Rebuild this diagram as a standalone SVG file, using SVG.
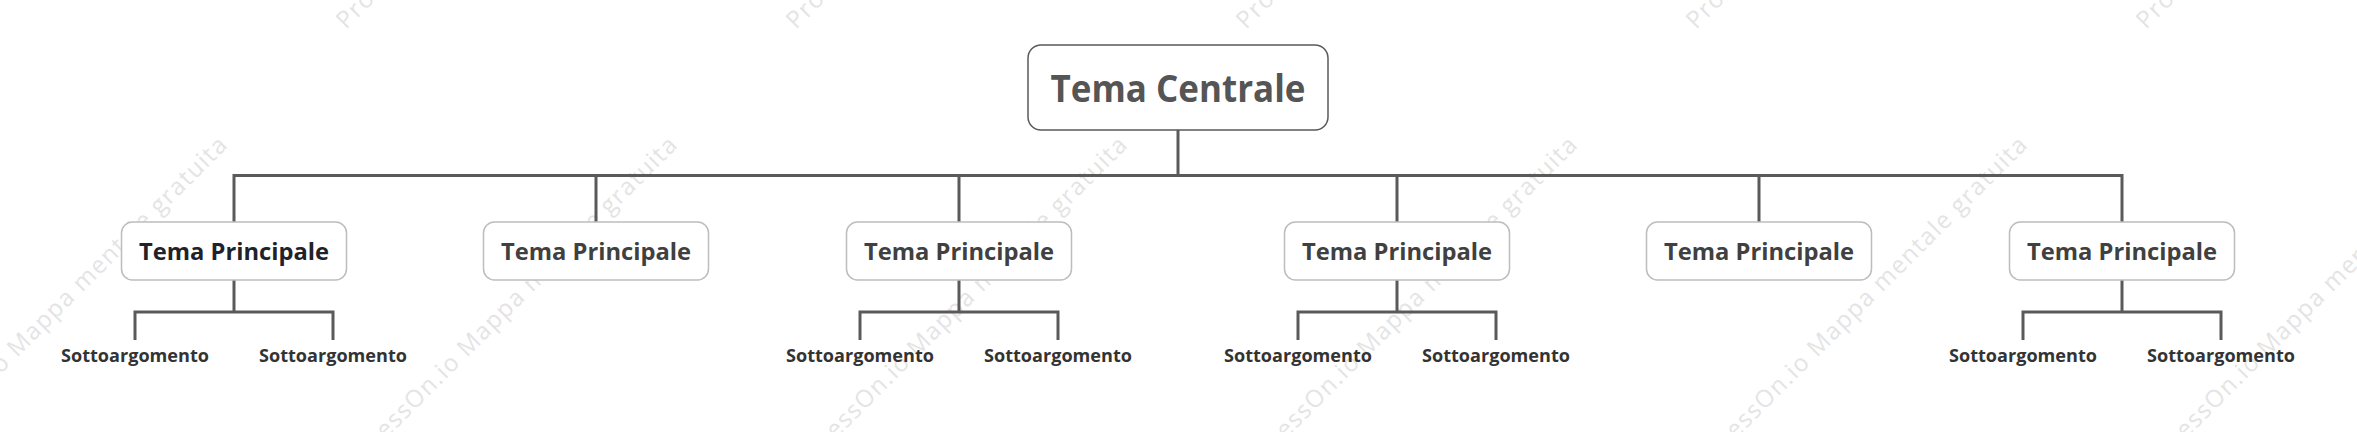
<svg xmlns="http://www.w3.org/2000/svg" width="2357" height="432" viewBox="0 0 2357 432">
  <style>
    .wm { font-family: "Open Sans", "Liberation Sans", sans-serif; font-size: 24px; fill: #e4e4e4; }
    .central-box { fill: #ffffff; stroke: #5a5a5a; stroke-width: 1.5; }
    .central-text { font-family: "Open Sans", "Liberation Sans", sans-serif; font-weight: 700; font-size: 37px; fill: #555555; text-anchor: middle; }
    .main-box { fill: #ffffff; stroke: #bdbdbd; stroke-width: 1.5; }
    .main-text { font-family: "Open Sans", "Liberation Sans", sans-serif; font-weight: 700; font-size: 24px; fill: #404040; text-anchor: middle; }
    .main-text.first { fill: #1f2329; }
    .sub-text { font-family: "Open Sans", "Liberation Sans", sans-serif; font-weight: 700; font-size: 18.5px; fill: #333333; text-anchor: middle; }
    .conn { fill: none; stroke: #5a5a5a; stroke-width: 3; }
  </style>
  <rect width="2357" height="432" fill="#ffffff"/>

  <g id="watermarks">
    <text class="wm" transform="translate(-554,30) rotate(-45)" textLength="470">ProcessOn.io Mappa mentale gratuita</text>
    <text class="wm" transform="translate(-104,30) rotate(-45)" textLength="470">ProcessOn.io Mappa mentale gratuita</text>
    <text class="wm" transform="translate(346,30) rotate(-45)" textLength="470">ProcessOn.io Mappa mentale gratuita</text>
    <text class="wm" transform="translate(796,30) rotate(-45)" textLength="470">ProcessOn.io Mappa mentale gratuita</text>
    <text class="wm" transform="translate(1246,30) rotate(-45)" textLength="470">ProcessOn.io Mappa mentale gratuita</text>
    <text class="wm" transform="translate(1696,30) rotate(-45)" textLength="470">ProcessOn.io Mappa mentale gratuita</text>
    <text class="wm" transform="translate(2146,30) rotate(-45)" textLength="470">ProcessOn.io Mappa mentale gratuita</text>
    <text class="wm" transform="translate(-104,479) rotate(-45)" textLength="470">ProcessOn.io Mappa mentale gratuita</text>
    <text class="wm" transform="translate(346,479) rotate(-45)" textLength="470">ProcessOn.io Mappa mentale gratuita</text>
    <text class="wm" transform="translate(796,479) rotate(-45)" textLength="470">ProcessOn.io Mappa mentale gratuita</text>
    <text class="wm" transform="translate(1246,479) rotate(-45)" textLength="470">ProcessOn.io Mappa mentale gratuita</text>
    <text class="wm" transform="translate(1696,479) rotate(-45)" textLength="470">ProcessOn.io Mappa mentale gratuita</text>
    <text class="wm" transform="translate(2146,479) rotate(-45)" textLength="470">ProcessOn.io Mappa mentale gratuita</text>
  </g>

  <g id="connectors">
    <path class="conn" d="M1178,130 V175.5"/>
    <path class="conn" d="M234,222 V175.5 H2122 V222"/>
    <path class="conn" stroke-width="2.5" d="M596,175.5 V222 M959,175.5 V222 M1397,175.5 V222 M1759,175.5 V222"/>
    <path class="conn" d="M234,280 V312 M135,340 V312 H333 V340"/>
    <path class="conn" d="M959,280 V312 M860,340 V312 H1058 V340"/>
    <path class="conn" d="M1397,280 V312 M1298,340 V312 H1496 V340"/>
    <path class="conn" d="M2122,280 V312 M2023,340 V312 H2221 V340"/>
  </g>

  <g id="central">
    <rect class="central-box" x="1028" y="45" width="300" height="85" rx="13"/>
    <text class="central-text" x="1178" y="102" textLength="255" lengthAdjust="spacingAndGlyphs">Tema Centrale</text>
  </g>

  <g id="main1">
    <rect class="main-box" x="121.5" y="222" width="225" height="58" rx="11"/>
    <text class="main-text first" x="234" y="260" textLength="190" lengthAdjust="spacingAndGlyphs">Tema Principale</text>
  </g>
  <g id="main2">
    <rect class="main-box" x="483.5" y="222" width="225" height="58" rx="11"/>
    <text class="main-text" x="596" y="260" textLength="190" lengthAdjust="spacingAndGlyphs">Tema Principale</text>
  </g>
  <g id="main3">
    <rect class="main-box" x="846.5" y="222" width="225" height="58" rx="11"/>
    <text class="main-text" x="959" y="260" textLength="190" lengthAdjust="spacingAndGlyphs">Tema Principale</text>
  </g>
  <g id="main4">
    <rect class="main-box" x="1284.5" y="222" width="225" height="58" rx="11"/>
    <text class="main-text" x="1397" y="260" textLength="190" lengthAdjust="spacingAndGlyphs">Tema Principale</text>
  </g>
  <g id="main5">
    <rect class="main-box" x="1646.5" y="222" width="225" height="58" rx="11"/>
    <text class="main-text" x="1759" y="260" textLength="190" lengthAdjust="spacingAndGlyphs">Tema Principale</text>
  </g>
  <g id="main6">
    <rect class="main-box" x="2009.5" y="222" width="225" height="58" rx="11"/>
    <text class="main-text" x="2122" y="260" textLength="190" lengthAdjust="spacingAndGlyphs">Tema Principale</text>
  </g>

  <g id="sub1a"><text class="sub-text" x="135" y="362" textLength="148" lengthAdjust="spacingAndGlyphs">Sottoargomento</text></g>
  <g id="sub1b"><text class="sub-text" x="333" y="362" textLength="148" lengthAdjust="spacingAndGlyphs">Sottoargomento</text></g>
  <g id="sub3a"><text class="sub-text" x="860" y="362" textLength="148" lengthAdjust="spacingAndGlyphs">Sottoargomento</text></g>
  <g id="sub3b"><text class="sub-text" x="1058" y="362" textLength="148" lengthAdjust="spacingAndGlyphs">Sottoargomento</text></g>
  <g id="sub4a"><text class="sub-text" x="1298" y="362" textLength="148" lengthAdjust="spacingAndGlyphs">Sottoargomento</text></g>
  <g id="sub4b"><text class="sub-text" x="1496" y="362" textLength="148" lengthAdjust="spacingAndGlyphs">Sottoargomento</text></g>
  <g id="sub6a"><text class="sub-text" x="2023" y="362" textLength="148" lengthAdjust="spacingAndGlyphs">Sottoargomento</text></g>
  <g id="sub6b"><text class="sub-text" x="2221" y="362" textLength="148" lengthAdjust="spacingAndGlyphs">Sottoargomento</text></g>
</svg>
